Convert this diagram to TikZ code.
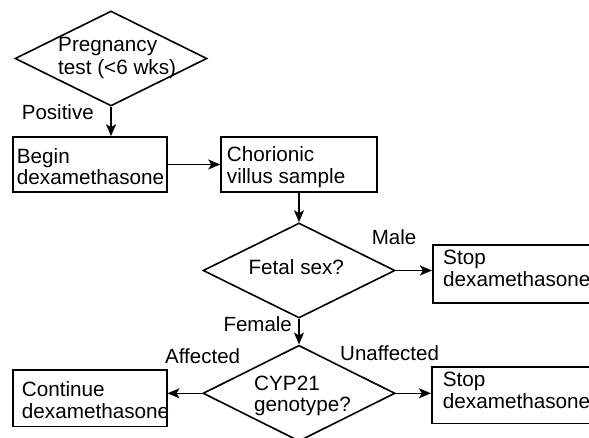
\documentclass[tikz,border=0pt]{standalone}
\usepackage{fontspec}
\setmainfont{Liberation Sans}
\usetikzlibrary{shapes.geometric,arrows.meta}
\tikzset{
  dec/.style={diamond, draw, line width=1.6pt, inner sep=0pt, minimum width=192pt, minimum height=95pt},
  boxnode/.style={rectangle, draw, line width=1.6pt, inner sep=0pt},
  txt/.style={anchor=base west, inner sep=0pt, align=left, font=\fontsize{20.7}{21.7}\selectfont},
  lbl/.style={anchor=base west, inner sep=0pt, font=\fontsize{20.5}{21.7}\selectfont},
  arr/.style={-{Stealth[length=12pt,width=10pt,inset=3pt]}, line width=1.6pt}
}
\begin{document}
\begin{tikzpicture}[x=1pt,y=-1pt]
\useasboundingbox (0,0) rectangle (589,438);
\clip (0,0) rectangle (589,438);
% decisions
\node[dec] (preg) at (111,58.5) {};
\node[dec] (fetal) at (299,270.5) {};
\node[dec, minimum height=96pt] (cyp) at (299,393.3) {};
% boxes
\node[boxnode, minimum width=154pt, minimum height=55pt] (begin) at (89.7,164.5) {};
\node[boxnode, minimum width=155.7pt, minimum height=55pt] (cvs) at (298.9,164.5) {};
\node[boxnode, minimum width=167.3pt, minimum height=58pt] (stop1) at (516.4,274) {};
\node[boxnode, minimum width=154pt, minimum height=56.7pt] (cont) at (89.7,398.3) {};
\node[boxnode, minimum width=168.3pt, minimum height=56.6pt] (stop2) at (515.9,395) {};
% texts (anchor = baseline of the last line)
\node[txt, font=\fontsize{20.7}{23.3}\selectfont] (preg-t) at (58,75) {Pregnancy\\test (<6 wks)};
\node[txt] (begin-t) at (16.7,185) {Begin\\dexamethasone};
\node[txt] (cvs-t) at (226.7,183.3) {Chorionic\\villus sample};
\node[txt] (fetal-t) at (248.3,275) {Fetal sex?};
\node[txt] (stop1-t) at (443,286.7) {Stop\\dexamethasone};
\node[txt] (cyp-t) at (254,411.7) {CYP21\\genotype?};
\node[txt] (cont-t) at (21.7,418.3) {Continue\\dexamethasone};
\node[txt] (stop2-t) at (442.7,408.3) {Stop\\dexamethasone};
% labels
\node[lbl] (pos) at (21.7,119.3) {Positive};
\node[lbl] (male) at (371.7,245) {Male};
\node[lbl] (female) at (223.3,331.7) {Female};
\node[lbl] (aff) at (165,363.3) {Affected};
\node[lbl] (unaff) at (340,360) {Unaffected};
% connectors
\draw[arr] (preg.south) -- (preg.south |- begin.north);
\draw[arr] (begin.east) -- (cvs.west);
\draw[arr] (cvs.south -| fetal.north) -- (fetal.north);
\draw[arr] (fetal.east) -- (fetal.east -| stop1.west);
\draw[arr] (fetal.south) -- (cyp.north);
\draw[arr] (cyp.west) -- (cyp.west -| cont.east);
\draw[arr] (cyp.east) -- (cyp.east -| stop2.west);
\end{tikzpicture}
\end{document}
